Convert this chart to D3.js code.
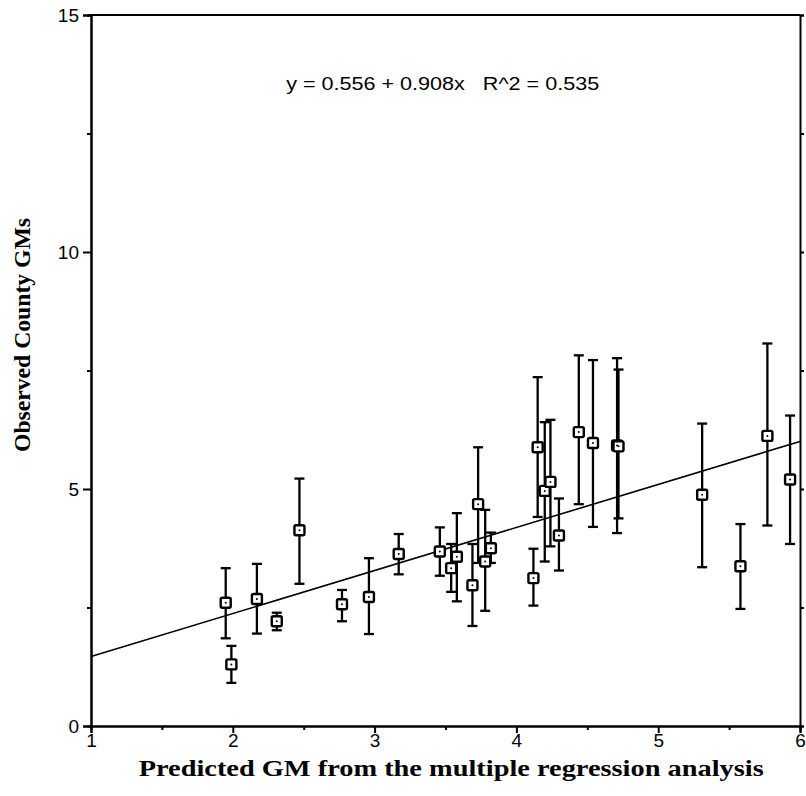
<!DOCTYPE html>
<html>
<head>
<meta charset="utf-8">
<script src="https://cdn.jsdelivr.net/npm/d3@7"></script>
<style>
  body { margin: 0; background: #fff; }
  svg { display: block; }
  .tick text { font-family: "Liberation Sans", Arial, sans-serif; font-size: 19px; fill: #000; }
  .axis path, .axis line { stroke: #000; stroke-width: 2; }
</style>
</head>
<body>
<svg id="chart" width="806" height="796"></svg>
<script>
// predicted GM (x), observed county GM (y), and error bar ends
const predicted = [1.95, 1.99, 2.17, 2.31, 2.47, 2.77, 2.96, 3.17, 3.46, 3.54, 3.58, 3.69, 3.73, 3.78,
                   3.82, 4.12, 4.15, 4.20, 4.24, 4.30, 4.44, 4.54, 4.71, 4.72, 5.31, 5.58, 5.77, 5.93]
const observed  = [2.60, 1.30, 2.68, 2.21, 4.13, 2.57, 2.72, 3.63, 3.68, 3.33, 3.57, 2.97, 4.68, 3.47,
                   3.75, 3.12, 5.88, 4.96, 5.15, 4.02, 6.20, 5.97, 5.92, 5.90, 4.88, 3.37, 6.12, 5.20]
const upper     = [3.33, 1.69, 3.42, 2.39, 5.22, 2.87, 3.54, 4.05, 4.19, 3.84, 4.49, 3.84, 5.88, 4.56,
                   4.08, 3.74, 7.36, 6.41, 6.46, 4.80, 7.82, 7.72, 7.76, 7.52, 6.38, 4.26, 8.07, 6.55]
const lower     = [1.85, 0.91, 1.95, 2.02, 3.00, 2.21, 1.94, 3.20, 3.17, 2.83, 2.63, 2.11, 3.44, 2.43,
                   3.44, 2.54, 4.41, 3.47, 3.79, 3.28, 4.68, 4.20, 4.07, 4.38, 3.35, 2.47, 4.23, 3.84]

// fitted line
const intercept = 0.556
const slope = 0.908
const r2 = 0.535

const xTicks = [1, 2, 3, 4, 5, 6]
const yTicks = [0, 5, 10, 15]
const xMinor = [1.5, 2.5, 3.5, 4.5, 5.5]
const yMinor = [2.5, 7.5, 12.5]

const svg = d3.select("#chart"),
      margin = {left: 91, right: 6, top: 15, bottom: 70},
      width = +svg.attr("width") - margin.left - margin.right,
      height = +svg.attr("height") - margin.top - margin.bottom,
      g = svg.append("g")
             .attr("transform", "translate(" + margin.left + "," + margin.top + ")")

let x = d3.scaleLinear()
          .domain([1, 6])
          .range([0, width])

let y = d3.scaleLinear()
          .domain([0, 15])
          .range([height, 0])

// frame: top and right edges
g.append("line")
 .attr("x1", 0).attr("x2", width).attr("y1", 0).attr("y2", 0)
 .attr("stroke", "#000").attr("stroke-width", 2)
g.append("g")
 .attr("class", "axis")
 .attr("transform", "translate(" + width + ",0)")
 .call(d3.axisRight(y).tickValues(yMinor.concat(yTicks)).tickSize(4).tickFormat(""))

// minor ticks
g.append("g")
 .attr("class", "axis")
 .attr("transform", "translate(0," + height + ")")
 .call(d3.axisBottom(x).tickValues(xMinor).tickSize(4).tickFormat(""))
g.append("g")
 .attr("class", "axis")
 .call(d3.axisLeft(y).tickValues(yMinor).tickSize(4).tickFormat(""))

// major axes
g.append("g")
 .attr("class", "axis axis--x")
 .attr("transform", "translate(0," + height + ")")
 .call(d3.axisBottom(x).tickValues(xTicks).tickSize(7).tickPadding(1).tickFormat(d3.format("d")))
 .call(a => a.selectAll(".tick text").attr("dy", "0.7em"))

g.append("g")
 .attr("class", "axis axis--y")
 .call(d3.axisLeft(y).tickValues(yTicks).tickSize(8).tickPadding(4).tickFormat(d3.format("d")))

// regression line
const line = d3.line()
               .x(d => x(d))
               .y(d => y(intercept + slope * d))
g.append("path")
 .datum(x.domain())
 .attr("d", line)
 .attr("fill", "none")
 .attr("stroke", "#000")
 .attr("stroke-width", 1.6)

const pts = predicted.map((p, i) => ({x: p, y: observed[i], hi: upper[i], lo: lower[i]}))

// error bars
const bars = g.selectAll(".err")
              .data(pts)
              .join("g")
              .attr("class", "err")
              .attr("stroke", "#000")
              .attr("stroke-width", 2.3)
bars.append("line")
    .attr("x1", d => x(d.x)).attr("x2", d => x(d.x))
    .attr("y1", d => y(d.hi)).attr("y2", d => y(d.lo))
bars.append("line")
    .attr("x1", d => x(d.x) - 5).attr("x2", d => x(d.x) + 5)
    .attr("y1", d => y(d.hi)).attr("y2", d => y(d.hi))
bars.append("line")
    .attr("x1", d => x(d.x) - 5).attr("x2", d => x(d.x) + 5)
    .attr("y1", d => y(d.lo)).attr("y2", d => y(d.lo))

// open square markers with a centre dot
g.selectAll(".pt")
 .data(pts)
 .join("rect")
 .attr("class", "pt")
 .attr("x", d => x(d.x) - 5)
 .attr("y", d => y(d.y) - 5)
 .attr("width", 10).attr("height", 10)
 .attr("rx", 1.5)
 .attr("fill", "#fff")
 .attr("stroke", "#000")
 .attr("stroke-width", 2.4)
g.selectAll(".dot")
 .data(pts)
 .join("circle")
 .attr("class", "dot")
 .attr("cx", d => x(d.x))
 .attr("cy", d => y(d.y))
 .attr("r", 1)
 .attr("fill", "#000")

// equation
g.append("text")
 .attr("x", x(3.48))
 .attr("y", y(13.42))
 .attr("text-anchor", "middle")
 .attr("textLength", 313)
 .attr("lengthAdjust", "spacingAndGlyphs")
 .style("font-family", "Liberation Sans, Arial, sans-serif")
 .style("font-size", "19px")
 .style("white-space", "pre")
 .text("y = " + intercept + " + " + slope + "x   R^2 = " + r2)

// axis titles
svg.append("text")
   .attr("x", margin.left + x(3.54))
   .attr("y", 776)
   .attr("text-anchor", "middle")
   .attr("textLength", 625)
   .attr("lengthAdjust", "spacingAndGlyphs")
   .style("font-family", "Liberation Serif, Times New Roman, serif")
   .style("font-weight", "bold")
   .style("font-size", "24px")
   .text("Predicted GM from the multiple regression analysis")

svg.append("text")
   .attr("transform", "translate(30," + 335 + ") rotate(-90)")
   .attr("text-anchor", "middle")
   .attr("textLength", 234)
   .attr("lengthAdjust", "spacingAndGlyphs")
   .style("font-family", "Liberation Serif, Times New Roman, serif")
   .style("font-weight", "bold")
   .style("font-size", "23px")
   .text("Observed County GMs")
</script>
</body>
</html>
